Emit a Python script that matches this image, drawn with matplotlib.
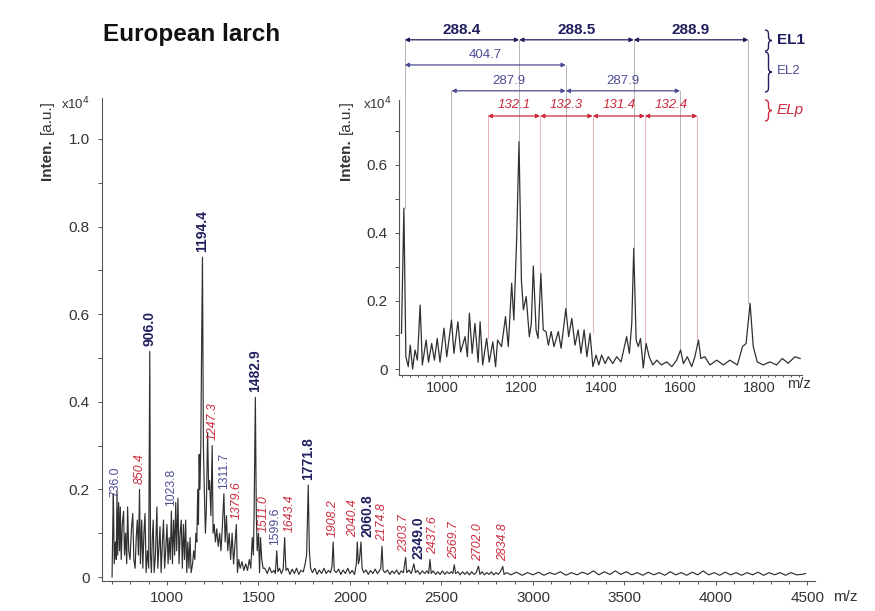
import numpy as np
import matplotlib
matplotlib.use('Agg')
import matplotlib.pyplot as plt
from matplotlib.ticker import MultipleLocator
from matplotlib.path import Path
from matplotlib.patches import PathPatch
from matplotlib.transforms import ScaledTranslation

plt.rcParams['font.family'] = ['Liberation Sans', 'DejaVu Sans']

# ---------------- data ----------------
main_mz = [700, 704, 707, 712, 718, 723, 727, 731, 736, 741, 745, 750, 756, 763, 768, 774, 780,
           785, 791, 798, 806, 813, 819, 826, 832, 838, 844, 850, 855, 862, 868, 874, 880, 886,
           893, 900, 906, 910, 915, 920, 925, 930, 937, 945, 950, 956, 962, 968, 975, 981, 987,
           993, 1000, 1006, 1012, 1018, 1024, 1030, 1036, 1042, 1048, 1053, 1060, 1066, 1072,
           1078, 1084, 1090, 1096, 1102, 1108, 1114, 1120, 1126, 1132, 1140, 1146, 1152, 1158,
           1163, 1168, 1172, 1176, 1180, 1185, 1189, 1194, 1199, 1204, 1210, 1215, 1222, 1228,
           1233, 1240, 1247, 1252, 1258, 1265, 1272, 1280, 1288, 1295, 1302, 1311, 1318, 1325,
           1332, 1340, 1348, 1356, 1364, 1372, 1379, 1385, 1392, 1400, 1410, 1420, 1430, 1440,
           1450, 1458, 1466, 1472, 1476, 1483, 1488, 1493, 1500, 1506, 1511, 1518, 1525,
           1535, 1548, 1560, 1572, 1585, 1592, 1600, 1606, 1615, 1625, 1635, 1643, 1650, 1660,
           1672, 1684, 1696, 1708, 1720, 1732, 1745, 1755, 1763, 1772, 1778, 1785, 1795, 1808,
           1820, 1832, 1845, 1858, 1870, 1882, 1894, 1902, 1908, 1914, 1925, 1938, 1950, 1962,
           1975, 1988, 2000, 2012, 2025, 2035, 2040, 2046, 2052, 2060, 2066, 2075, 2088, 2100,
           2112, 2125, 2138, 2150, 2162, 2168, 2175, 2181, 2192, 2205, 2218, 2230, 2242, 2255,
           2268, 2280, 2292, 2304, 2310, 2322, 2335, 2349, 2358, 2370, 2382, 2395, 2408, 2420,
           2430, 2437, 2444, 2455, 2468, 2480, 2492, 2505, 2518, 2530, 2542, 2555, 2562, 2570,
           2577, 2590, 2602, 2615, 2628, 2640, 2652, 2665, 2678, 2690, 2702, 2710, 2722, 2735,
           2748, 2760, 2772, 2785, 2798, 2810, 2822, 2835, 2842, 2855, 2880, 2910, 2940, 2970,
           3000, 3030, 3060, 3090, 3120, 3150, 3180, 3210, 3240, 3270, 3300, 3330, 3360, 3390,
           3420, 3450, 3480, 3510, 3540, 3570, 3600, 3630, 3660, 3690, 3720, 3750, 3780, 3810,
           3840, 3870, 3900, 3930, 3960, 3990, 4020, 4050, 4080, 4110, 4140, 4170, 4200, 4230,
           4260, 4290, 4320, 4350, 4380, 4410, 4440, 4470, 4490]
main_int = [0.0, 0.12, 0.19, 0.03, 0.08, 0.04, 0.195, 0.05, 0.17, 0.06, 0.16, 0.04, 0.12, 0.15,
            0.05, 0.10, 0.03, 0.16, 0.06, 0.04, 0.11, 0.145, 0.04, 0.02, 0.09, 0.13, 0.05, 0.20,
            0.03, 0.13, 0.02, 0.10, 0.145, 0.01, 0.06, 0.02, 0.515, 0.05, 0.01, 0.09, 0.13, 0.01,
            0.05, 0.16, 0.02, 0.07, 0.115, 0.01, 0.08, 0.13, 0.02, 0.06, 0.12, 0.03, 0.09, 0.04,
            0.15, 0.03, 0.13, 0.05, 0.17, 0.06, 0.18, 0.03, 0.10, 0.13, 0.02, 0.12, 0.04, 0.13,
            0.01, 0.08, 0.02, 0.09, 0.01, 0.03, 0.06, 0.04, 0.10, 0.08, 0.20, 0.12, 0.28, 0.20,
            0.30, 0.51, 0.73, 0.30, 0.20, 0.10, 0.15, 0.33, 0.20, 0.22, 0.14, 0.30, 0.10, 0.12,
            0.08, 0.11, 0.07, 0.10, 0.06, 0.11, 0.19, 0.08, 0.14, 0.06, 0.10, 0.04, 0.10, 0.03,
            0.08, 0.12, 0.01, 0.04, 0.02, 0.035, 0.015, 0.03, 0.015, 0.04, 0.02, 0.09, 0.05,
            0.14, 0.41, 0.15, 0.06, 0.10, 0.01, 0.09, 0.04, 0.02,
            0.02, 0.008, 0.022, 0.01, 0.015, 0.008, 0.06, 0.012, 0.02, 0.008, 0.018, 0.09, 0.015,
            0.02, 0.006, 0.018, 0.008, 0.02, 0.006, 0.015, 0.012, 0.03, 0.05, 0.21, 0.06, 0.02,
            0.01, 0.02, 0.006, 0.016, 0.008, 0.02, 0.008, 0.015, 0.01, 0.025, 0.08, 0.015, 0.01,
            0.018, 0.006, 0.016, 0.008, 0.02, 0.008, 0.015, 0.006, 0.03, 0.08, 0.03, 0.04, 0.08,
            0.02, 0.01, 0.016, 0.006, 0.015, 0.008, 0.018, 0.008, 0.015, 0.02, 0.07, 0.015, 0.01,
            0.016, 0.006, 0.014, 0.008, 0.016, 0.006, 0.014, 0.01, 0.045, 0.01, 0.016, 0.008,
            0.03, 0.01, 0.015, 0.006, 0.014, 0.008, 0.014, 0.008, 0.04, 0.008, 0.014, 0.006,
            0.012, 0.006, 0.014, 0.006, 0.012, 0.008, 0.012, 0.008, 0.028, 0.008, 0.012, 0.005,
            0.012, 0.006, 0.012, 0.005, 0.012, 0.006, 0.01, 0.025, 0.006, 0.012, 0.005, 0.01,
            0.006, 0.012, 0.005, 0.01, 0.006, 0.012, 0.024, 0.006, 0.01, 0.005, 0.011, 0.004,
            0.01, 0.005, 0.011, 0.004, 0.01, 0.006, 0.012, 0.004, 0.01, 0.005, 0.011, 0.006,
            0.014, 0.005, 0.012, 0.006, 0.014, 0.006, 0.012, 0.005, 0.01, 0.004, 0.011, 0.005,
            0.01, 0.004, 0.012, 0.005, 0.01, 0.004, 0.011, 0.005, 0.014, 0.005, 0.01, 0.004,
            0.011, 0.005, 0.01, 0.004, 0.01, 0.005, 0.011, 0.004, 0.01, 0.005, 0.01, 0.004,
            0.01, 0.005, 0.006, 0.008]

inset_mz = [898, 904, 909, 915, 920, 926, 932, 938, 945, 950.5, 960, 966, 974, 981, 988, 995,
            1005, 1012, 1024, 1030, 1040, 1047, 1058, 1064, 1069, 1076, 1083, 1091, 1096,
            1102.5, 1112.5, 1119, 1128, 1135, 1140, 1150, 1160, 1167, 1175.5, 1181, 1188, 1194,
            1200, 1205, 1212, 1220, 1225, 1230, 1237, 1242, 1249, 1255, 1262, 1268, 1275, 1282,
            1293, 1300, 1312, 1319, 1327, 1335, 1343, 1350, 1358, 1365, 1373, 1380, 1388, 1395,
            1402, 1411, 1419, 1430, 1440, 1451, 1465, 1472, 1478, 1483, 1489, 1494.5, 1500, 1507,
            1514, 1522, 1531, 1541, 1553, 1566, 1579, 1591, 1601, 1608, 1618, 1629, 1637, 1646,
            1652, 1662, 1675, 1692, 1709, 1725, 1744, 1757, 1766, 1776, 1784, 1794, 1809, 1826,
            1843, 1857, 1872, 1889, 1902]
inset_int = [0.105, 0.473, 0.036, 0.007, 0.07, 0.0, 0.056, 0.026, 0.188, 0.012, 0.085, 0.02,
             0.075, 0.026, 0.09, 0.02, 0.12, 0.036, 0.144, 0.046, 0.139, 0.05, 0.095, 0.036,
             0.164, 0.046, 0.134, 0.02, 0.139, 0.012, 0.09, 0.02, 0.08, 0.007, 0.085, 0.066,
             0.154, 0.066, 0.252, 0.144, 0.38, 0.668, 0.262, 0.174, 0.213, 0.095, 0.134, 0.303,
             0.115, 0.09, 0.281, 0.115, 0.11, 0.07, 0.11, 0.066, 0.11, 0.061, 0.178, 0.095,
             0.149, 0.07, 0.115, 0.046, 0.115, 0.036, 0.105, 0.007, 0.041, 0.012, 0.041, 0.016,
             0.036, 0.016, 0.036, 0.021, 0.095, 0.046, 0.134, 0.355, 0.085, 0.066, 0.09, 0.003,
             0.075, 0.036, 0.012, 0.026, 0.012, 0.021, 0.007, 0.026, 0.056, 0.016, 0.036, 0.007,
             0.036, 0.085, 0.031, 0.036, 0.012, 0.026, 0.012, 0.026, 0.012, 0.066, 0.075, 0.193,
             0.066, 0.021, 0.012, 0.021, 0.012, 0.031, 0.017, 0.036, 0.031]

label_mz = [736.0, 850.4, 906.0, 1023.8, 1194.4, 1247.3, 1311.7, 1379.6, 1482.9, 1511.0,
            1599.6, 1643.4, 1771.8, 1908.2, 2040.4, 2060.8, 2174.8, 2303.7, 2349.0, 2437.6,
            2569.7, 2702.0, 2834.8]
label_kind = ['EL2', 'ELp', 'EL1', 'EL2', 'EL1', 'ELp', 'EL2', 'ELp', 'EL1', 'ELp',
              'EL2', 'ELp', 'EL1', 'ELp', 'ELp', 'EL1', 'ELp', 'ELp', 'EL1', 'ELp',
              'ELp', 'ELp', 'ELp']

el1_mz = [906.0, 1194.4, 1482.9, 1771.8]
el1_text = ['288.4', '288.5', '288.9']
el2a_mz = [906.0, 1311.7]
el2a_text = ['404.7']
el2b_mz = [1023.8, 1311.7, 1599.6]
el2b_text = ['287.9', '287.9']
elp_mz = [1115.2, 1247.3, 1379.6, 1511.0, 1643.4]
elp_text = ['132.1', '132.3', '131.4', '132.4']

# ---------------- style / layout ----------------
NAVY = '#1f1f5e'
BLUE = '#4d4d94'
RED = '#cc2a3c'
TRACE = '#303030'
AXC = '#555555'
TXT = '#333333'
# horizontal nudges (pixels) of crowded peak labels
LABEL_DX = {736.0: -3, 1511.0: 3, 1599.6: -2, 1643.4: 5, 2040.4: -4, 2060.8: 6,
            2303.7: -1, 2349.0: 5, 2437.6: 3}

W, H = 875, 611
fig = plt.figure(figsize=(W / 100, H / 100), dpi=100)
fig.patch.set_facecolor('white')


def fx(px):
    return px / W


def fy(py):
    return 1 - py / H


# ---------------- main axes ----------------
ax = fig.add_axes([fx(102), fy(581), (815 - 102) / W, (581 - 98) / H])
ax.plot(main_mz, main_int, color=TRACE, lw=0.85)
ax.set_xlim(645, 4541)
ax.set_ylim(-0.0091, 1.0936)
for s in ['top', 'right']:
    ax.spines[s].set_visible(False)
for s in ['left', 'bottom']:
    ax.spines[s].set_color(AXC)
    ax.spines[s].set_linewidth(0.8)
ax.set_xticks(np.arange(1000, 4501, 500))
ax.xaxis.set_minor_locator(MultipleLocator(100))
ax.set_yticks([0, 0.2, 0.4, 0.6, 0.8, 1.0])
ax.set_yticklabels(['0', '0.2', '0.4', '0.6', '0.8', '1.0'])
ax.yaxis.set_minor_locator(MultipleLocator(0.1))
ax.tick_params(which='both', direction='out', color=AXC, width=0.7, labelcolor=TXT)
ax.tick_params(axis='x', which='major', length=3, labelsize=11, pad=4)
ax.tick_params(axis='x', which='minor', length=2)
ax.tick_params(axis='y', which='major', length=3, labelsize=11, pad=6)
ax.tick_params(axis='y', which='minor', length=3)

mz_arr = np.array(main_mz, dtype=float)
int_arr = np.array(main_int, dtype=float)
for m, k in zip(label_mz, label_kind):
    sel = np.abs(mz_arr - m) <= 8
    ytop = int_arr[sel].max() if sel.any() else 0.02
    if k == 'EL1':
        kw = dict(color=NAVY, fontweight='bold', fontsize=10)
    elif k == 'EL2':
        kw = dict(color=BLUE, fontsize=8.8)
    else:
        kw = dict(color=RED, fontstyle='italic', fontsize=8.8)
    tr = ax.transData + ScaledTranslation(LABEL_DX.get(m, 0) / 100, 0, fig.dpi_scale_trans)
    ax.text(m, ytop + 0.012, f'{m:.1f}', rotation=90, ha='center', va='bottom',
            transform=tr, **kw)

fig.text(fx(103), fy(34), 'European larch', fontsize=17.5, fontweight='bold',
         ha='left', va='center', color='#111111')
fig.text(fx(90), fy(104), r'x10$^4$', fontsize=9.5, ha='right', va='center', color=TXT)
fig.text(fx(47), fy(160), 'Inten.', fontsize=11, fontweight='bold', rotation=90,
         ha='center', va='center', color=TXT)
fig.text(fx(47), fy(117), '[a.u.]', fontsize=11, rotation=90, ha='center', va='center',
         color=TXT)
fig.text(fx(845), fy(597), 'm/z', fontsize=11, ha='center', va='center', color=TXT)

# ---------------- inset axes ----------------
ai = fig.add_axes([fx(399), fy(375), (802 - 399) / W, (375 - 100) / H])
ai.patch.set_alpha(0)
ai.plot(inset_mz, inset_int, color=TRACE, lw=0.9)
ai.set_xlim(891.7, 1906.8)
ai.set_ylim(-0.0176, 0.791)
for s in ['top', 'right']:
    ai.spines[s].set_visible(False)
for s in ['left', 'bottom']:
    ai.spines[s].set_color(AXC)
    ai.spines[s].set_linewidth(0.8)
ai.set_xticks([1000, 1200, 1400, 1600, 1800])
ai.xaxis.set_minor_locator(MultipleLocator(20))
ai.set_yticks([0, 0.2, 0.4, 0.6])
ai.set_yticklabels(['0', '0.2', '0.4', '0.6'])
ai.yaxis.set_minor_locator(MultipleLocator(0.1))
ai.tick_params(which='both', direction='out', color=AXC, width=0.7, labelcolor=TXT)
ai.tick_params(axis='x', which='major', length=2.5, labelsize=10.5, pad=1.5)
ai.tick_params(axis='x', which='minor', length=1.5)
ai.tick_params(axis='y', which='major', length=3, labelsize=11, pad=5)
ai.tick_params(axis='y', which='minor', length=3)

fig.text(fx(392), fy(104), r'x10$^4$', fontsize=9.5, ha='right', va='center', color=TXT)
fig.text(fx(346), fy(160), 'Inten.', fontsize=11, fontweight='bold', rotation=90,
         ha='center', va='center', color=TXT)
fig.text(fx(346), fy(117), '[a.u.]', fontsize=11, rotation=90, ha='center', va='center',
         color=TXT)
fig.text(fx(799), fy(384), 'm/z', fontsize=10.5, ha='center', va='center', color=TXT)

# annotation rows (inset data y)
ROW1, ROW2, ROW3, ROW4 = 0.968, 0.894, 0.818, 0.744
imz = np.array(inset_mz, dtype=float)
iint = np.array(inset_int, dtype=float)


def peak_top(m):
    sel = np.abs(imz - m) <= 8
    return iint[sel].max() if sel.any() else np.interp(m, imz, iint)


def vline(m, ytop, color):
    ai.plot([m, m], [peak_top(m), ytop], color=color, lw=0.7, clip_on=False, zorder=1)


tops = {906.0: ROW1, 1194.4: ROW1, 1482.9: ROW1, 1771.8: ROW1,
        1311.7: ROW2, 1023.8: ROW3, 1599.6: ROW3}
for m, t in tops.items():
    vline(m, t, '#b5b5b5')
for m in elp_mz:
    vline(m, ROW4, '#eab4b4')


def arrow_row(xs, texts, y, ty, color, **tkw):
    for i, t in enumerate(texts):
        ai.annotate('', xy=(xs[i + 1], y), xytext=(xs[i], y), annotation_clip=False,
                    arrowprops=dict(arrowstyle='<|-|>', color=color, lw=0.9, shrinkA=0,
                                    shrinkB=0, mutation_scale=6))
        ai.text((xs[i] + xs[i + 1]) / 2, ty, t, ha='center', va='center', color=color,
                clip_on=False, **tkw)


arrow_row(el1_mz, el1_text, ROW1, 0.997, NAVY, fontsize=11, fontweight='bold')
arrow_row(el2a_mz, el2a_text, ROW2, 0.923, BLUE, fontsize=9.5)
arrow_row(el2b_mz, el2b_text, ROW3, 0.847, BLUE, fontsize=9.5)
arrow_row(elp_mz, elp_text, ROW4, 0.776, RED, fontsize=9.5, fontstyle='italic')


# group labels with thin curly braces
def brace(x, y0, y1, w, color):
    ym = (y0 + y1) / 2
    d = min(4.0, (y1 - y0) / 4)
    pts = [(x, y0), (x + w / 2, y0), (x + w / 2, y0 + d), (x + w / 2, ym - d),
           (x + w / 2, ym), (x + w, ym), (x + w / 2, ym), (x + w / 2, ym + d),
           (x + w / 2, y1 - d), (x + w / 2, y1), (x, y1)]
    codes = [Path.MOVETO, Path.CURVE3, Path.CURVE3, Path.LINETO, Path.CURVE3, Path.CURVE3,
             Path.CURVE3, Path.CURVE3, Path.LINETO, Path.CURVE3, Path.CURVE3]
    verts = [(fx(px), fy(py)) for px, py in pts]
    fig.patches.append(PathPatch(Path(verts, codes), fill=False, edgecolor=color, lw=1.0,
                                 transform=fig.transFigure, figure=fig))


brace(765, 30, 51, 7, NAVY)
fig.text(fx(777), fy(40), 'EL1', fontsize=11, fontweight='bold', ha='left', va='center',
         color=NAVY)
brace(765, 52, 92, 7, NAVY)
fig.text(fx(777), fy(71), 'EL2', fontsize=9.5, ha='left', va='center', color=BLUE)
brace(765, 100, 121, 7, RED)
fig.text(fx(777), fy(110), 'ELp', fontsize=11, fontstyle='italic', ha='left', va='center',
         color=RED)

fig.savefig('out.png', dpi=100)
